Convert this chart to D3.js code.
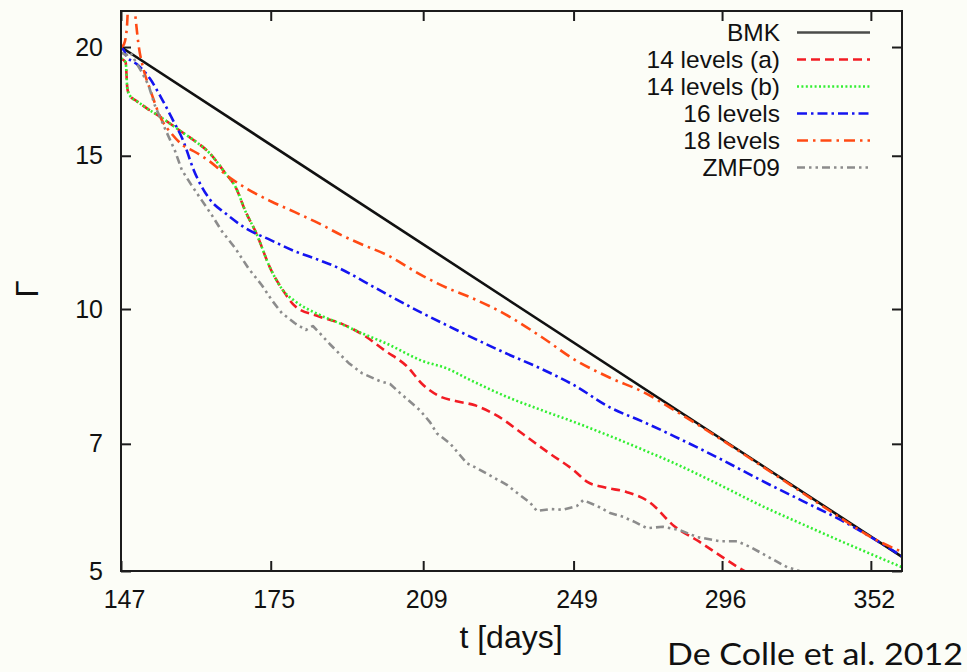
<!DOCTYPE html>
<html><head><meta charset="utf-8">
<script src="https://cdn.jsdelivr.net/npm/d3@7"></script>
<style>html,body{margin:0;padding:0;background:#fcfdf7;} svg{display:block;}</style>
</head><body><svg id="c" width="967" height="672"></svg>
<script>
// ---- data ----
const xTicks = [147, 175, 209, 249, 296, 352];
const yTicks = [5, 7, 10, 15, 20];
const seriesNames = ["BMK", "14 levels (a)", "14 levels (b)", "16 levels", "18 levels", "ZMF09"];

const tBMK = [147, 365];
const gBMK = [20.0, 5.19];

const tLev14a = [147, 147.8, 148.1, 148.6, 149.5, 150, 152, 154, 156, 158, 160, 163, 166, 168, 170, 172, 175, 177.5, 180, 185, 190, 195, 200, 205, 209, 213, 217, 222, 228, 235, 242, 249, 253, 258, 265, 272, 280, 288, 296, 302, 306];
const gLev14a = [19.41, 19.2, 17.9, 17.56, 17.37, 17.28, 16.92, 16.61, 16.27, 15.94, 15.63, 15.10, 14.32, 13.80, 12.92, 12.25, 11.11, 10.51, 10.08, 9.81, 9.62, 9.33, 8.95, 8.60, 8.18, 7.94, 7.84, 7.75, 7.53, 7.17, 6.83, 6.53, 6.33, 6.24, 6.16, 6.00, 5.63, 5.41, 5.19, 5.04, 4.96];

const tLev14b = [147, 147.8, 148.1, 148.6, 149.5, 150, 152, 154, 156, 158, 160, 163, 166, 168, 170, 172, 175, 177.5, 180, 185, 190, 195, 200, 209, 215, 220, 230, 240, 249, 260, 270, 280, 296, 310, 325, 340, 352, 365];
const gLev14b = [19.41, 19.2, 17.9, 17.56, 17.37, 17.28, 16.92, 16.61, 16.27, 15.94, 15.63, 15.10, 14.32, 13.80, 12.92, 12.25, 11.11, 10.51, 10.21, 9.86, 9.61, 9.36, 9.14, 8.71, 8.54, 8.32, 7.94, 7.65, 7.42, 7.14, 6.89, 6.65, 6.26, 5.94, 5.66, 5.41, 5.23, 5.05];

const tLev16 = [147, 147.5, 148, 149, 150, 152, 154, 156, 158, 160, 163, 166, 170, 175, 180, 185, 190, 195, 200, 209, 215, 220, 230, 240, 249, 260, 270, 280, 296, 310, 325, 340, 352, 365];
const gLev16 = [19.93, 19.83, 19.46, 19.26, 19.05, 18.41, 17.51, 16.56, 15.63, 14.44, 13.37, 12.88, 12.38, 12.00, 11.65, 11.39, 11.11, 10.76, 10.42, 9.88, 9.57, 9.33, 8.90, 8.53, 8.18, 7.70, 7.42, 7.14, 6.71, 6.35, 6.02, 5.72, 5.47, 5.20];

const tLev18 = [147, 147.5, 148, 148.4, 148.9, 149.4, 150, 151, 152, 154, 156, 158, 160, 163, 166, 170, 175, 180, 185, 190, 195, 200, 209, 215, 220, 230, 240, 249, 260, 270, 280, 296, 310, 325, 340, 352, 365];
const gLev18 = [19.98, 20.14, 21.01, 23.5, 24.0, 22.0, 20.2, 18.76, 17.93, 16.56, 15.88, 15.42, 15.18, 14.78, 14.28, 13.77, 13.30, 12.92, 12.55, 12.16, 11.84, 11.56, 10.91, 10.57, 10.35, 9.86, 9.28, 8.76, 8.33, 8.03, 7.65, 7.07, 6.60, 6.15, 5.75, 5.47, 5.26];

const tZMF = [147, 147.9, 148.6, 149.1, 150.6, 151.8, 152.9, 154.7, 156.5, 157.8, 159.6, 161.5, 163.4, 165.3, 167.9, 170.5, 173.2, 175.2, 177.3, 180.0, 182.3, 183.8, 185.3, 187.5, 191.6, 194.6, 198.8, 201.1, 203.4, 208.2, 210.7, 212.3, 215.6, 219.9, 222.3, 226.7, 230.4, 233.1, 236.7, 238.6, 242.3, 246.0, 250.0, 251.8, 255.9, 259.8, 263.8, 267.5, 271.2, 276.3, 281.9, 287.5, 295.3, 301.2, 305.8, 311.9, 319.3, 323.0, 327.9];
const gZMF = [19.72, 19.57, 19.72, 19.46, 18.71, 18.07, 17.14, 16.13, 15.22, 14.44, 13.87, 13.33, 12.82, 12.29, 11.75, 11.14, 10.65, 10.24, 9.89, 9.63, 9.46, 9.56, 9.38, 9.11, 8.67, 8.44, 8.26, 8.20, 8.01, 7.65, 7.41, 7.20, 7.01, 6.65, 6.57, 6.41, 6.28, 6.15, 5.99, 5.86, 5.89, 5.88, 5.94, 6.03, 5.94, 5.83, 5.77, 5.69, 5.60, 5.62, 5.57, 5.47, 5.41, 5.41, 5.33, 5.20, 5.05, 5.01, 4.95];

// ---- chart ----
const W = 967, H = 672;
const m = {left: 121, right: 902, top: 11, bottom: 571};
const x = d3.scaleLog().domain([147, 365]).range([m.left, m.right]);
const y = d3.scaleLog().domain([5, 22]).range([m.bottom, m.top]);
const FONT = "'Liberation Sans', Arial, Helvetica, sans-serif";
const INK = "#1c1c1c";

const svg = d3.select("#c");
svg.append("rect").attr("width", W).attr("height", H).attr("fill", "#fcfdf7");
svg.append("defs").append("clipPath").attr("id", "clip")
  .append("rect").attr("x", m.left).attr("y", m.top)
  .attr("width", m.right - m.left).attr("height", m.bottom - m.top);

function styleAxis(g) {
  g.select(".domain").remove();
  g.selectAll(".tick line").attr("stroke", INK).attr("stroke-width", 2);
  g.selectAll(".tick text").attr("fill", "#111").style("font-family", FONT).style("font-size", "25px");
}
const fmt = d3.format("d");
svg.append("g").attr("transform", `translate(0,${m.bottom})`)
  .call(d3.axisBottom(x).tickValues(xTicks).tickFormat(fmt).tickSizeInner(-10).tickSizeOuter(0).tickPadding(19))
  .call(styleAxis).call(g => g.selectAll(".tick text").attr("dx", 3));
svg.append("g").attr("transform", `translate(0,${m.top})`)
  .call(d3.axisTop(x).tickValues(xTicks).tickFormat("").tickSizeInner(-10).tickSizeOuter(0))
  .call(styleAxis);
svg.append("g").attr("transform", `translate(${m.left},0)`)
  .call(d3.axisLeft(y).tickValues(yTicks).tickFormat(fmt).tickSizeInner(-10).tickSizeOuter(0).tickPadding(18))
  .call(styleAxis);
svg.append("g").attr("transform", `translate(${m.right},0)`)
  .call(d3.axisRight(y).tickValues(yTicks).tickFormat("").tickSizeInner(-10).tickSizeOuter(0))
  .call(styleAxis);

const series = [
  {name: seriesNames[0], t: tBMK, g: gBMK, color: "#111111", dash: null, width: 2.6, curve: d3.curveLinear},
  {name: seriesNames[1], t: tLev14a, g: gLev14a, color: "#f21c24", dash: "9,5", width: 2.6, curve: d3.curveMonotoneX},
  {name: seriesNames[2], t: tLev14b, g: gLev14b, color: "#33ee33", dash: "2,2.4", width: 2.6, curve: d3.curveMonotoneX},
  {name: seriesNames[3], t: tLev16, g: gLev16, color: "#1414f0", dash: "10,4,2.5,4", width: 2.6, curve: d3.curveMonotoneX},
  {name: seriesNames[4], t: tLev18, g: gLev18, color: "#ff4a14", dash: "11,5,2.5,5", width: 2.6, curve: d3.curveMonotoneX},
  {name: seriesNames[5], t: tZMF, g: gZMF, color: "#8c8c8c", dash: "8,4,2.5,4,2.5,4", width: 2.6, curve: d3.curveLinear}
];

const plot = svg.append("g").attr("clip-path", "url(#clip)");
series.forEach(s => {
  const pts = s.t.map((t, i) => [t, s.g[i]]);
  plot.append("path").datum(pts)
    .attr("fill", "none").attr("stroke", s.color).attr("stroke-width", s.width)
    .attr("stroke-dasharray", s.dash).attr("stroke-linejoin", "round")
    .attr("d", d3.line().x(d => x(d[0])).y(d => y(d[1])).curve(s.curve));
});

// frame
svg.append("rect").attr("x", m.left).attr("y", m.top)
  .attr("width", m.right - m.left).attr("height", m.bottom - m.top)
  .attr("fill", "none").attr("stroke", INK).attr("stroke-width", 2);

// legend
const lg = svg.append("g");
series.forEach((s, i) => {
  const yy = 32.5 + 27 * i;
  lg.append("text").attr("x", 780).attr("y", yy).attr("dy", "0.35em")
    .attr("text-anchor", "end").style("font-family", FONT).style("font-size", "24.5px")
    .attr("fill", "#111").text(s.name);
  lg.append("line").attr("x1", 797).attr("x2", 870).attr("y1", yy).attr("y2", yy)
    .attr("stroke", s.color).attr("stroke-width", s.width).attr("stroke-dasharray", s.dash)
    .attr("opacity", i === 0 ? 0.75 : 1);
});

// axis labels
svg.append("text").attr("x", 511).attr("y", 648).attr("text-anchor", "middle")
  .style("font-family", FONT).style("font-size", "32px").attr("fill", "#111").text("t [days]");
svg.append("text").attr("transform", "translate(38,289) rotate(-90)").attr("text-anchor", "middle")
  .style("font-family", FONT).style("font-size", "31px").attr("fill", "#111").text("Γ");

// citation
svg.append("text").attr("x", 963).attr("y", 665).attr("text-anchor", "end")
  .attr("textLength", 296).attr("lengthAdjust", "spacingAndGlyphs")
  .style("font-family", "Lato, 'Open Sans', sans-serif").style("font-size", "31px")
  .attr("fill", "#111").text("De Colle et al. 2012");
</script>
</body></html>
